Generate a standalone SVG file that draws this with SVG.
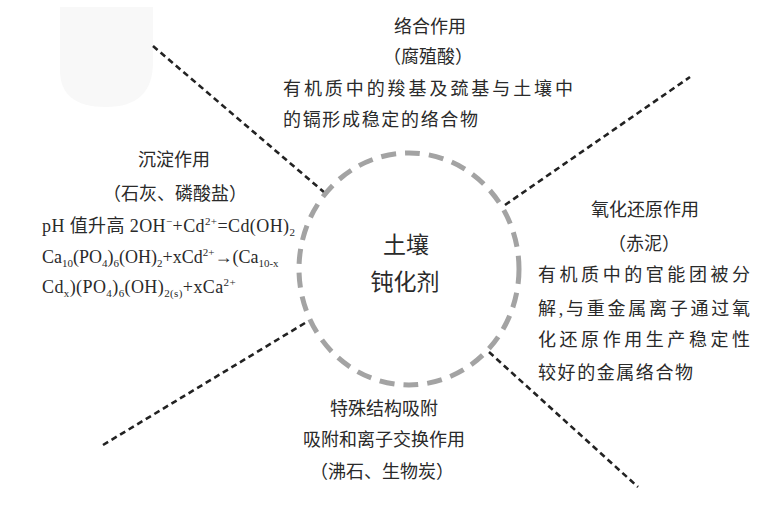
<svg xmlns="http://www.w3.org/2000/svg" width="771" height="510" viewBox="0 0 771 510">
<style>
text{font-family:"Liberation Serif","Noto Sans CJK SC",serif;font-size:18px;fill:#2a2a2a}
.c{text-anchor:middle}
.big{font-size:23px}
.s{font-size:11px}
.f{letter-spacing:0.4px}
.conn{stroke:#222;stroke-width:2.6;stroke-dasharray:6 4;fill:none}
.ring{stroke:#a3a3a3;stroke-width:5;stroke-dasharray:15 9;fill:none}
</style>
<rect width="771" height="510" fill="#ffffff"/>
<path d="M60,7 H153 V62 Q153,107 106,107 Q60,107 60,70 Z" fill="#f8f8f8"/>
<g id="connectors">
<line class="conn" x1="153" y1="46" x2="325" y2="193"/>
<line class="conn" x1="505" y1="205" x2="690" y2="77"/>
<line class="conn" x1="305" y1="323" x2="103" y2="445"/>
<line class="conn" x1="489" y1="352" x2="638" y2="487"/>
</g>
<g id="center">
<ellipse class="ring" cx="409" cy="269" rx="110" ry="116"/>
<text class="c big" x="406" y="253">土壤</text>
<text class="c big" x="405" y="290">钝化剂</text>
</g>
<g id="complexation">
<text class="c" x="430" y="33">络合作用</text>
<text class="c" x="428" y="63">（腐殖酸）</text>
<text x="283" y="95" textLength="290" lengthAdjust="spacing">有机质中的羧基及巯基与土壤中</text>
<text x="283" y="126" textLength="195" lengthAdjust="spacing">的镉形成稳定的络合物</text>
</g>
<g id="precipitation">
<text class="c" x="174" y="166">沉淀作用</text>
<text class="c" x="175" y="200">（石灰、磷酸盐）</text>
<text class="f" x="42" y="232">pH 值升高 2OH<tspan class="s" dy="-7">−</tspan><tspan dy="7">+Cd</tspan><tspan class="s" dy="-7">2+</tspan><tspan dy="7">=Cd(OH)</tspan><tspan class="s" dy="4">2</tspan></text>
<text x="42" y="263">Ca<tspan class="s" dy="4">10</tspan><tspan dy="-4">(PO</tspan><tspan class="s" dy="4">4</tspan><tspan dy="-4">)</tspan><tspan class="s" dy="4">6</tspan><tspan dy="-4">(OH)</tspan><tspan class="s" dy="4">2</tspan><tspan dy="-4">+xCd</tspan><tspan class="s" dy="-7">2+</tspan><tspan dy="7">→(Ca</tspan><tspan class="s" dy="4">10-x</tspan></text>
<text class="f" x="42" y="293">Cd<tspan class="s" dy="4">x</tspan><tspan dy="-4">)(PO</tspan><tspan class="s" dy="4">4</tspan><tspan dy="-4">)</tspan><tspan class="s" dy="4">6</tspan><tspan dy="-4">(OH)</tspan><tspan class="s" dy="4">2(s)</tspan><tspan dy="-4">+xCa</tspan><tspan class="s" dy="-7">2+</tspan></text>
</g>
<g id="redox">
<text class="c" x="645" y="216">氧化还原作用</text>
<text class="c" x="644" y="250">（赤泥）</text>
<text x="538" y="281" textLength="212" lengthAdjust="spacing">有机质中的官能团被分</text>
<text x="538" y="315" textLength="212" lengthAdjust="spacing">解,与重金属离子通过氧</text>
<text x="538" y="346" textLength="212" lengthAdjust="spacing">化还原作用生产稳定性</text>
<text x="538" y="379" textLength="155" lengthAdjust="spacing">较好的金属络合物</text>
</g>
<g id="adsorption">
<text class="c" x="384" y="415">特殊结构吸附</text>
<text class="c" x="384" y="446">吸附和离子交换作用</text>
<text class="c" x="382" y="478">（沸石、生物炭）</text>
</g>
</svg>
